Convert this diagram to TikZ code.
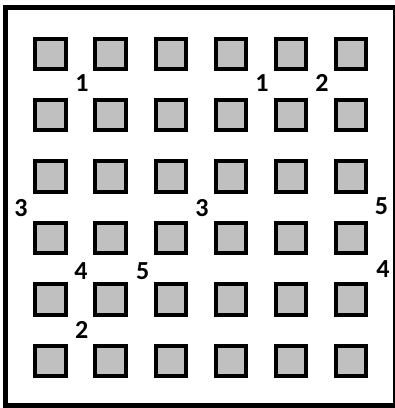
\documentclass[tikz,border=0pt]{standalone}
\usepackage{fontspec}
\setmainfont{Carlito}
\definecolor{sqgray}{RGB}{192,192,192}
\tikzset{
  cell/.style={draw=black, fill=sqgray, line width=4pt, minimum size=30.4pt, inner sep=0pt, outer sep=0pt},
  lab/.style={inner sep=0pt, font=\fontsize{26}{26}\selectfont\bfseries}
}
\begin{document}
\begin{tikzpicture}[x=1pt,y=-1pt]
\useasboundingbox (0,0) rectangle (395,408);
\begin{scope}
\clip (0,0) rectangle (395,408);
\draw[line width=5pt] (5.8,7.5) rectangle (395.5,405.5);
\end{scope}
\foreach \r in {0,...,5}{
  \foreach \c in {0,...,5}{
    \node[cell] (s\r\c) at ({50.5+60.1*\c},{53.8+61.4*\r}) {};
  }
}
\node[lab] (l1a) at (82,83.3) {1};
\node[lab] (l1b) at (262,83) {1};
\node[lab] (l2a) at (322,83) {2};
\node[lab] (l3a) at (21,207.7) {3};
\node[lab] (l3b) at (202,208) {3};
\node[lab] (l5a) at (381.5,206.5) {5};
\node[lab] (l4a) at (81,271) {4};
\node[lab] (l5b) at (142.7,271) {5};
\node[lab] (l4b) at (383,269) {4};
\node[lab] (l2b) at (81.7,330) {2};
\end{tikzpicture}
\end{document}
